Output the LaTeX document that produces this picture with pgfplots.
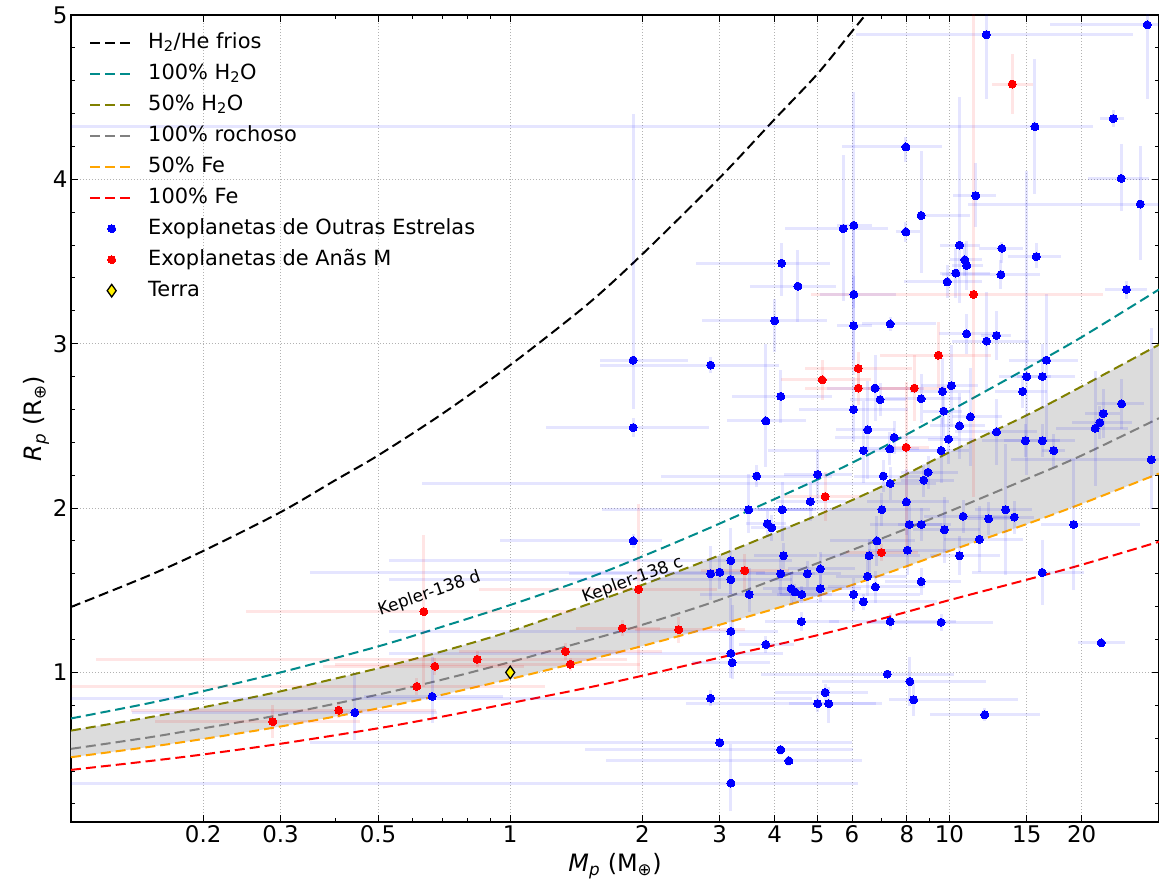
\documentclass[border=0pt]{standalone}
\usepackage{fontspec}
\setmainfont{DejaVu Sans}
\usepackage{pgfplots}
\pgfplotsset{compat=1.18}
\usepackage{pgfplotstable}
\usepgfplotslibrary{fillbetween}

\definecolor{bandgray}{RGB}{220,220,220}
\definecolor{mydarkcyan}{RGB}{0,139,139}
\definecolor{myolive}{RGB}{128,128,0}
\definecolor{mygray}{RGB}{128,128,128}
\definecolor{myorange}{RGB}{255,165,0}

\pgfplotstableread{
x y xm xp ym yp
0.443 0.756 0.305 0.237 0.17 0.24
0.664 0.854 0.20 0.30 0.16 0.24
1.905 1.80 0.955 0.315 0.04 0.04
1.905 2.90 0.30 0.635 0.30 1.50
1.905 2.49 0.70 0.935 0.06 0.06
2.86 2.87 1.26 1.24 0.05 0.05
3.64 2.195 1.43 1.76 0.065 0.065
3.82 2.53 0.70 0.90 0.28 0.47
4.13 2.68 0.93 1.27 0.16 0.16
4.0 3.14 1.27 1.26 0.19 0.13
6.05 3.11 0.50 0.60 0.30 0.30
6.06 3.72 0.50 0.60 0.50 0.81
6.06 3.30 1.00 1.50 0.40 0.40
6.05 2.60 1.50 2.00 0.20 0.20
3.49 1.99 0.16 1.40 0.14 0.22
4.16 1.99 0.50 0.80 0.19 0.17
3.85 1.905 0.40 0.40 0.08 0.08
3.94 1.88 0.40 0.40 0.08 0.08
4.19 1.71 0.60 0.80 0.08 0.08
3.18 1.68 2.65 1.20 0.20 0.20
2.86 1.60 1.50 1.50 0.16 0.17
3.0 1.61 2.65 0.80 0.10 0.10
3.18 1.565 2.65 1.20 0.09 0.09
4.13 1.60 0.50 0.80 0.12 0.12
4.75 1.60 0.60 0.90 0.08 0.08
5.08 1.63 0.80 1.00 0.10 0.10
3.5 1.475 0.80 1.00 0.11 0.16
4.36 1.51 0.60 0.80 0.10 0.10
4.45 1.49 0.50 0.60 0.05 0.05
4.61 1.475 0.50 0.80 0.05 0.05
5.08 1.51 1.00 1.20 0.08 0.08
6.05 1.475 2.00 2.50 0.10 0.10
4.60 1.31 0.80 1.00 0.06 0.06
3.18 1.25 2.65 0.90 0.15 0.20
3.82 1.17 0.50 0.60 0.05 0.05
3.18 1.116 2.65 1.00 0.15 0.15
3.2 1.06 0.60 0.70 0.10 0.35
2.86 0.843 2.80 2.00 0.05 0.05
5.21 0.878 1.20 1.30 0.05 0.05
5.01 0.81 2.50 2.00 0.05 0.05
5.31 0.81 1.00 1.50 0.12 0.10
3.0 0.573 2.65 3.00 0.03 0.03
4.13 0.529 2.65 1.90 0.03 0.03
4.31 0.462 2.66 2.00 0.03 0.03
3.18 0.327 3.12 3.00 0.17 0.24
7.96 4.197 2.26 1.64 0.09 0.06
11.48 3.90 1.30 1.30 0.19 0.20
8.62 3.78 0.10 2.50 0.35 0.39
5.73 3.70 1.50 1.50 0.44 0.45
7.96 3.68 0.40 0.60 0.06 0.06
10.54 3.60 1.00 1.20 0.35 0.90
10.84 3.51 0.80 1.00 0.10 0.10
10.95 3.476 0.80 1.00 0.15 0.15
10.34 3.43 0.80 2.00 0.15 0.15
9.88 3.376 2.00 2.00 0.10 0.10
4.15 3.49 1.50 1.20 0.20 0.12
4.52 3.35 1.00 1.00 0.22 0.22
7.33 3.12 1.00 2.00 0.04 0.04
12.13 4.88 6.00 14.0 0.39 0.30
28.2 4.94 11.3 10.0 0.45 0.10
23.6 4.37 1.60 1.40 0.05 0.05
15.66 4.32 15.6 5.60 0.41 0.41
24.6 4.006 3.90 3.90 0.20 0.21
27.2 3.85 16.2 8.00 0.34 0.35
13.17 3.58 1.50 1.50 0.09 0.04
15.77 3.53 2.20 2.20 0.07 0.08
13.1 3.42 3.50 3.00 0.09 0.09
25.3 3.33 2.70 2.90 0.06 0.05
10.95 3.06 1.50 2.00 0.12 0.12
6.77 2.73 1.50 2.00 0.20 0.20
6.95 2.66 1.00 1.00 0.10 0.10
9.64 2.71 1.50 1.50 0.20 0.20
10.1 2.745 1.50 1.50 0.25 0.25
8.62 2.665 1.50 2.00 0.15 0.15
9.7 2.59 1.00 1.00 0.15 0.15
11.16 2.555 1.00 2.00 0.30 0.30
6.52 2.476 1.00 1.00 0.30 0.30
10.54 2.50 1.50 1.50 0.20 0.20
7.48 2.43 2.00 3.00 0.10 0.10
6.37 2.35 2.50 3.00 0.20 0.30
7.32 2.36 1.00 1.20 0.10 0.10
9.57 2.35 1.50 1.50 0.20 0.20
9.95 2.42 1.00 1.50 0.15 0.15
5.01 2.205 0.80 1.00 0.15 0.15
7.07 2.195 1.00 1.50 0.10 0.10
8.94 2.218 1.20 1.50 0.10 0.10
8.74 2.17 1.00 1.50 0.10 0.10
7.33 2.15 6.70 2.00 0.10 0.10
4.82 2.04 0.80 1.00 0.12 0.12
7.98 2.037 1.50 2.00 0.20 0.20
7.02 1.99 5.40 2.00 0.10 0.10
10.74 1.95 2.00 3.00 0.10 0.10
8.1 1.90 1.50 2.00 0.15 0.15
8.63 1.90 1.00 1.00 0.10 0.10
9.74 1.868 1.50 2.00 0.20 0.20
6.84 1.80 1.50 1.50 0.15 0.15
11.7 1.81 2.00 3.00 0.20 0.20
8.02 1.744 1.50 2.00 0.15 0.15
6.56 1.71 1.50 2.00 0.10 0.10
10.54 1.71 1.50 2.50 0.12 0.12
12.15 3.016 2.00 3.00 0.30 0.30
12.8 3.05 1.00 1.00 0.15 0.15
16.63 2.90 3.00 3.00 0.50 0.40
15.0 2.80 2.00 2.00 0.60 1.25
16.28 2.80 2.00 3.00 0.20 0.20
14.68 2.71 2.00 2.00 0.10 0.10
12.8 2.463 2.50 3.00 0.20 0.20
24.66 2.634 3.00 3.00 0.15 0.15
22.4 2.575 2.00 2.00 0.15 0.15
22.0 2.52 3.00 4.00 0.10 0.10
21.47 2.486 4.00 4.00 0.35 0.35
14.89 2.41 3.00 3.00 0.10 0.10
16.28 2.41 3.00 3.00 0.10 0.10
17.28 2.35 1.00 1.00 0.10 0.10
28.8 2.295 15.0 5.00 0.30 0.80
12.28 1.935 1.50 2.00 0.10 0.10
13.42 1.99 2.00 2.00 0.40 0.40
14.05 1.945 1.50 1.50 0.10 0.10
19.19 1.90 3.00 8.00 0.40 0.40
6.51 1.585 1.00 1.50 0.12 0.12
6.78 1.52 1.50 2.00 0.10 0.10
8.62 1.553 1.50 2.00 0.08 0.08
6.37 1.43 2.00 3.00 0.05 0.05
7.33 1.31 2.00 3.00 0.05 0.05
9.57 1.305 3.00 3.00 0.05 0.05
7.22 0.99 3.50 3.00 0.02 0.02
8.13 0.945 3.00 4.00 0.15 0.15
8.29 0.834 1.00 6.00 0.10 0.10
16.25 1.608 5.00 4.00 0.20 0.20
22.15 1.18 2.50 3.00 0.02 0.02
12.04 0.742 3.00 4.00 0.04 0.04
}\bluedata

\pgfplotstableread{
x y xm xp ym yp
0.288 0.70 0.133 0.167 0.10 0.10
0.407 0.77 0.27 0.27 0.05 0.05
0.613 0.915 0.56 0.59 0.05 0.05
0.636 1.37 0.386 0.75 0.46 0.465
0.674 1.037 0.30 0.40 0.05 0.05
0.841 1.08 0.727 1.00 0.05 0.05
1.335 1.128 0.57 0.885 0.05 0.05
1.37 1.05 0.97 0.60 0.04 0.04
1.80 1.27 0.39 0.39 0.05 0.05
1.96 1.506 1.11 1.00 0.51 0.52
2.42 1.26 0.50 1.00 0.08 0.08
3.42 1.62 0.70 0.90 0.12 0.10
5.13 2.78 1.00 1.50 0.12 0.12
5.21 2.07 1.00 1.00 0.15 0.15
6.2 2.85 1.50 2.00 0.10 0.10
6.2 2.73 1.50 2.00 0.10 0.10
7.0 1.73 1.20 1.50 0.05 0.05
7.97 2.37 0.80 1.00 0.60 0.40
8.32 2.73 1.80 2.00 0.20 0.20
9.44 2.93 2.50 3.00 0.20 0.20
11.35 3.30 6.50 11.0 1.23 2.00
13.9 4.58 1.40 1.60 0.18 0.18
}\reddata

\begin{document}
\begin{tikzpicture}[font=\fontsize{21}{25}\selectfont]
\begin{axis}[
  set layers,
  scale only axis, width=1088bp, height=807bp,
  xmode=log, xmin=0.1, xmax=30, ymin=0.09, ymax=5,
  xtick={0.2,0.3,0.5,1,2,3,4,5,6,8,10,15,20},
  xticklabels={0.2,0.3,0.5,1,2,3,4,5,6,8,10,15,20},
  minor xtick={0.4,0.6,0.7,0.8,0.9,7,9},
  ytick={1,2,3,4,5}, yticklabels={1,2,3,4,5},
  minor ytick={0.2,0.4,0.6,0.8,1.2,1.4,1.6,1.8,2.2,2.4,2.6,2.8,3.2,3.4,3.6,3.8,4.2,4.4,4.6,4.8},
  tick align=inside, xtick pos=both, ytick pos=both,
  major tick length=7bp, minor tick length=4bp,
  every tick/.style={black, line width=1bp},
  grid=major, major grid style={dash pattern=on 1bp off 2bp, black!30, line width=0.8bp},
  axis line style={line width=1.3bp},
  tick label style={font=\fontsize{23}{27}\selectfont},
  xlabel={{\itshape M}\textsubscript{\itshape p} (M\textsubscript{⊕})},
  ylabel={{\itshape R}\textsubscript{\itshape p} (R\textsubscript{⊕})},
  xlabel style={font=\fontsize{24}{28}\selectfont, yshift=-4bp},
  ylabel style={font=\fontsize{24}{28}\selectfont, yshift=-3bp},
  legend image code/.code={\draw[mark repeat=2,mark phase=2,#1] plot coordinates {(0bp,0bp) (21.5bp,0bp) (43bp,0bp)};},
  legend cell align=left,
  legend style={at={(rel axis cs:0,1)}, anchor=north west, xshift=18bp, yshift=-15bp,
    draw=none, fill=none, inner sep=0pt, row sep=6bp,
    font=\fontsize{21}{25}\selectfont,
    nodes={inner sep=2bp, text height=16bp, text depth=5bp},
    /tikz/every odd column/.append style={column sep=12bp}},
  every axis plot/.append style={line width=2bp},
  curve/.style={smooth, dash pattern=on 10bp off 5bp, line width=2bp},
]
% model curves
\addplot[curve, black] coordinates {(0.1,1.398) (0.15,1.588) (0.2,1.739) (0.3,1.975) (0.4,2.17) (0.5,2.32) (0.7,2.573) (1,2.87) (1.5,3.24) (2,3.545) (3,4.01) (4,4.366) (5,4.64) (6,4.90) (7,5.12)};
\addlegendentry{H\textsubscript{2}/He frios}
\addplot[curve, mydarkcyan] coordinates {(0.1,0.72) (0.15,0.812) (0.2,0.886) (0.3,1.0) (0.5,1.158) (0.7,1.278) (1,1.41) (1.5,1.573) (2,1.706) (3,1.906) (5,2.173) (7,2.366) (10,2.59) (15,2.85) (20,3.04) (30,3.33)};
\addlegendentry{100\% H\textsubscript{2}O}
\addplot[curve, myolive, name path=olive] coordinates {(0.1,0.646) (0.15,0.726) (0.2,0.788) (0.3,0.885) (0.5,1.025) (0.7,1.128) (1,1.25) (1.5,1.414) (2,1.533) (3,1.713) (5,1.956) (7,2.13) (10,2.34) (15,2.565) (20,2.74) (30,2.994)};
\addlegendentry{50\% H\textsubscript{2}O}
\addplot[curve, mygray] coordinates {(0.1,0.535) (0.15,0.604) (0.2,0.66) (0.3,0.742) (0.5,0.865) (0.7,0.956) (1,1.063) (1.5,1.194) (2,1.29) (3,1.442) (5,1.664) (7,1.814) (10,1.98) (15,2.177) (20,2.32) (30,2.547)};
\addlegendentry{100\% rochoso}
\addplot[curve, myorange, name path=orng] coordinates {(0.1,0.484) (0.15,0.546) (0.2,0.595) (0.3,0.671) (0.5,0.781) (0.7,0.864) (1,0.96) (1.5,1.075) (2,1.161) (3,1.29) (5,1.464) (7,1.592) (10,1.739) (15,1.903) (20,2.026) (30,2.21)};
\addlegendentry{50\% Fe}
\addplot[curve, red] coordinates {(0.1,0.407) (0.15,0.46) (0.2,0.501) (0.3,0.566) (0.5,0.66) (0.7,0.731) (1,0.813) (1.5,0.907) (2,0.98) (3,1.09) (5,1.226) (7,1.326) (10,1.44) (15,1.564) (20,1.655) (30,1.795)};
\addlegendentry{100\% Fe}
\addplot[fill=bandgray, draw=none, forget plot] fill between[of=olive and orng];
% data
\addplot[only marks, mark=*, mark size=4bp, color=blue, mark options={fill=blue, draw=blue, line width=0pt},
  error bars/.cd, x dir=both, x explicit, y dir=both, y explicit, error mark=none,
  error bar style={line width=3bp, color=blue, opacity=0.10, solid}]
  table[x=x, y=y, x error minus=xm, x error plus=xp, y error minus=ym, y error plus=yp] {\bluedata};
\addlegendentry{Exoplanetas de Outras Estrelas}
\addplot[only marks, mark=*, mark size=4bp, color=red, mark options={fill=red, draw=red, line width=0pt},
  error bars/.cd, x dir=both, x explicit, y dir=both, y explicit, error mark=none,
  error bar style={line width=3bp, color=red, opacity=0.10, solid}]
  table[x=x, y=y, x error minus=xm, x error plus=xp, y error minus=ym, y error plus=yp] {\reddata};
\addlegendentry{Exoplanetas de Anãs M}
\addplot[only marks, mark=diamond*, mark size=6.3bp, mark options={fill=yellow, draw=black, line width=1.3bp, xscale=0.95}] coordinates {(1,1)};
\addlegendentry{Terra}
\node[rotate=19, font=\fontsize{17}{20}\selectfont] at (axis cs:0.655,1.479) {Kepler-138 d};
\node[rotate=20, font=\fontsize{17}{20}\selectfont] at (axis cs:1.90,1.561) {Kepler-138 c};
\coordinate (sw) at (rel axis cs:0,0);
\coordinate (ne) at (rel axis cs:1,1);
\end{axis}
\pgfresetboundingbox
\path[use as bounding box] ([xshift=-71bp,yshift=-64bp]sw) rectangle ([yshift=15bp]ne);
\end{tikzpicture}
\end{document}
